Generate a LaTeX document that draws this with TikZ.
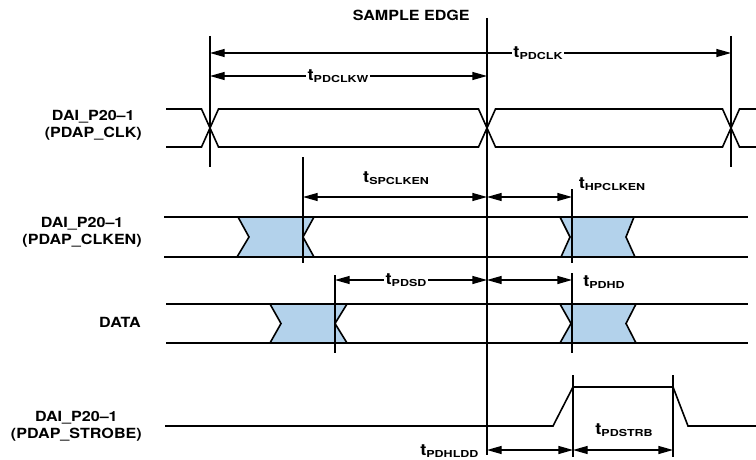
\documentclass[tikz,border=0pt]{standalone}
\usepackage{fontspec}
\usepackage{tikz}
\usetikzlibrary{arrows.meta}

\newfontfamily\lblfont{TeX Gyre Heros}[FakeStretch=1.15]
\newfontfamily\subfont{TeX Gyre Heros}[FakeStretch=1.3]
\definecolor{holdblue}{RGB}{179,210,235}
\newcommand{\tpar}[1]{{\fontsize{12}{13}\selectfont t}\raisebox{-1.5pt}{\subfont\fontsize{7.2}{8}\selectfont #1}}

\begin{document}
\begin{tikzpicture}[x=0.75pt,y=-0.75pt,
  sigline/.style={line width=1.2pt},
  vline/.style={line width=1.1pt},
  dimarrow/.style={line width=1pt,{Triangle[length=11pt,width=6pt]}-{Triangle[length=11pt,width=6pt]}},
  signame/.style={anchor=east,align=center,inner sep=0pt,font=\lblfont\bfseries\fontsize{10.5}{12.8}\selectfont},
  tlab/.style={inner sep=1pt,font=\lblfont\bfseries},
  tlabon/.style={tlab,fill=white}]
\useasboundingbox (0,0) rectangle (756,460);

% signal names
\node [signame] (sample) at (470,15) {SAMPLE EDGE};
\node [signame] (clk) at (142,125) {DAI\_P20–1\\(PDAP\_CLK)};
\node [signame] (clken) at (142,232) {DAI\_P20–1\\(PDAP\_CLKEN)};
\node [signame] (data) at (141,322) {DATA};
\node [signame] (strobe) at (142,426) {DAI\_P20–1\\(PDAP\_STROBE)};

% hold windows
\fill [holdblue] (238,217) -- (249,237) -- (237,257) -- (314,257) -- (303,237) -- (314,217) -- cycle;
\fill [holdblue] (560,217) -- (570,237) -- (561,257) -- (635,257) -- (626,237) -- (634,217) -- cycle;
\fill [holdblue] (270,304) -- (281,323.5) -- (270,343) -- (347,343) -- (335,323.5) -- (347,304) -- cycle;
\fill [holdblue] (560,304) -- (571,323.5) -- (560,343) -- (636,343) -- (626,323.5) -- (636,304) -- cycle;

% waveforms
\draw [sigline] (166,109) -- (201.5,109) -- (218.5,147) -- (478.5,147) -- (495.5,109) -- (722.5,109) -- (739.5,147) -- (756,147);
\draw [sigline] (166,147) -- (201.5,147) -- (218.5,109) -- (478.5,109) -- (495.5,147) -- (722.5,147) -- (739.5,109) -- (756,109);

\draw [sigline] (164,217) -- (748,217); \draw [sigline] (164,257) -- (748,257);
\draw [sigline] (238,217) -- (249,237) -- (237,257) (314,217) -- (303,237) -- (314,257);
\draw [sigline] (560,217) -- (570,237) -- (561,257) (634,217) -- (626,237) -- (635,257);

\draw [sigline] (166,304) -- (748,304); \draw [sigline] (166,343) -- (748,343);
\draw [sigline] (270,304) -- (281,323.5) -- (270,343) (347,304) -- (335,323.5) -- (347,343);
\draw [sigline] (560,304) -- (571,323.5) -- (560,343) (636,304) -- (626,323.5) -- (636,343);

\draw [sigline] (165,426) -- (553,426) -- (573,387) -- (673,387) -- (688,426) -- (756,426);

% reference edges
\coordinate (clkA) at (210,36); \coordinate (clkA') at (210,167);
\coordinate (edge) at (487,18); \coordinate (edge') at (487,455);
\coordinate (clkC) at (731,36); \coordinate (clkC') at (731,167);
\coordinate (spA) at (303,157); \coordinate (spA') at (303,263);
\coordinate (hpA) at (572,189); \coordinate (hpA') at (572,263);
\coordinate (sdA) at (335,275); \coordinate (sdA') at (335,353);
\coordinate (hdA) at (572,273); \coordinate (hdA') at (572,353);
\coordinate (stA) at (573,375); \coordinate (stA') at (573,457);
\coordinate (stB) at (673,375); \coordinate (stB') at (673,457);
\foreach \e in {clkA,edge,clkC,spA,hpA,sdA,hdA,stA,stB}
  \draw [vline] (\e) -- (\e');

% timing parameters
\draw [dimarrow] (clkA |- 0,53) -- (clkC |- 0,53);
\node [tlabon] (tclk) at (538,53) {\tpar{PDCLK}};
\draw [dimarrow] (clkA |- 0,76) -- (edge |- 0,76);
\node [tlabon] (tclkw) at (338,76) {\tpar{PDCLKW}};

\draw [dimarrow] (spA |- 0,197) -- (edge |- 0,197);
\node [tlab] (tsp) at (396,178) {\tpar{SPCLKEN}};
\draw [dimarrow] (edge |- 0,197) -- (hpA |- 0,197);
\node [tlab] (thp) at (612,184) {\tpar{HPCLKEN}};

\draw [dimarrow] (sdA |- 0,280) -- (edge |- 0,280);
\node [tlabon] (tsd) at (406,280) {\tpar{PDSD}};
\draw [dimarrow] (edge |- 0,280) -- (hdA |- 0,280);
\node [tlab] (thd) at (604,282) {\tpar{PDHD}};

\draw [dimarrow] (edge |- 0,450) -- (stA |- 0,450);
\node [tlab, anchor=east] (thldd) at (480,451) {\tpar{PDHLDD}};
\draw [dimarrow] (stA |- 0,450) -- (stB |- 0,450);
\node [tlab] (tstrb) at (624,430) {\tpar{PDSTRB}};

\end{tikzpicture}
\end{document}
